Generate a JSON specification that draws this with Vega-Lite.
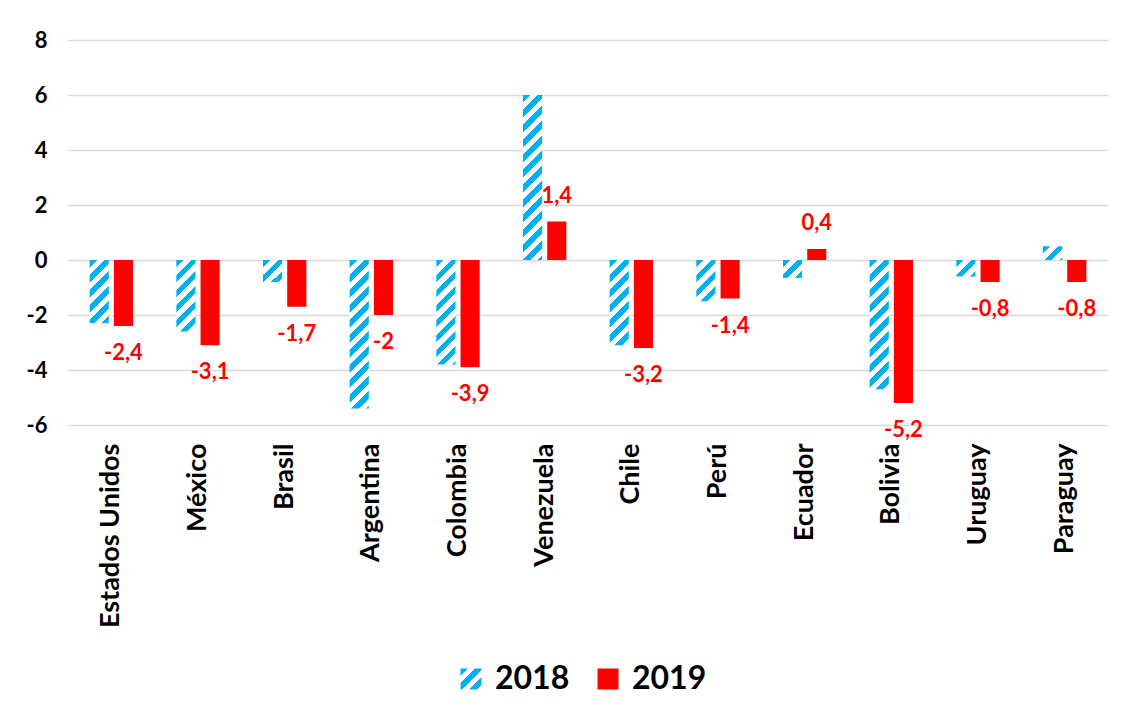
{
  "$schema": "https://vega.github.io/schema/vega-lite/v6.json",
  "autosize": {"type": "none"},
  "width": 1040,
  "height": 385,
  "padding": {"left": 68, "top": 40, "right": 14, "bottom": 292},
  "background": "#FFFFFF",
  "params": [
    {"name": "stripes", "value": [
      {"offset": 0.000, "color": "#00B0F0"}, {"offset": 0.025, "color": "#00B0F0"}, {"offset": 0.025, "color": "#FFFFFF"}, {"offset": 0.050, "color": "#FFFFFF"},
      {"offset": 0.050, "color": "#00B0F0"}, {"offset": 0.075, "color": "#00B0F0"}, {"offset": 0.075, "color": "#FFFFFF"}, {"offset": 0.100, "color": "#FFFFFF"},
      {"offset": 0.100, "color": "#00B0F0"}, {"offset": 0.125, "color": "#00B0F0"}, {"offset": 0.125, "color": "#FFFFFF"}, {"offset": 0.150, "color": "#FFFFFF"},
      {"offset": 0.150, "color": "#00B0F0"}, {"offset": 0.175, "color": "#00B0F0"}, {"offset": 0.175, "color": "#FFFFFF"}, {"offset": 0.200, "color": "#FFFFFF"},
      {"offset": 0.200, "color": "#00B0F0"}, {"offset": 0.225, "color": "#00B0F0"}, {"offset": 0.225, "color": "#FFFFFF"}, {"offset": 0.250, "color": "#FFFFFF"},
      {"offset": 0.250, "color": "#00B0F0"}, {"offset": 0.275, "color": "#00B0F0"}, {"offset": 0.275, "color": "#FFFFFF"}, {"offset": 0.300, "color": "#FFFFFF"},
      {"offset": 0.300, "color": "#00B0F0"}, {"offset": 0.325, "color": "#00B0F0"}, {"offset": 0.325, "color": "#FFFFFF"}, {"offset": 0.350, "color": "#FFFFFF"},
      {"offset": 0.350, "color": "#00B0F0"}, {"offset": 0.375, "color": "#00B0F0"}, {"offset": 0.375, "color": "#FFFFFF"}, {"offset": 0.400, "color": "#FFFFFF"},
      {"offset": 0.400, "color": "#00B0F0"}, {"offset": 0.425, "color": "#00B0F0"}, {"offset": 0.425, "color": "#FFFFFF"}, {"offset": 0.450, "color": "#FFFFFF"},
      {"offset": 0.450, "color": "#00B0F0"}, {"offset": 0.475, "color": "#00B0F0"}, {"offset": 0.475, "color": "#FFFFFF"}, {"offset": 0.500, "color": "#FFFFFF"},
      {"offset": 0.500, "color": "#00B0F0"}, {"offset": 0.525, "color": "#00B0F0"}, {"offset": 0.525, "color": "#FFFFFF"}, {"offset": 0.550, "color": "#FFFFFF"},
      {"offset": 0.550, "color": "#00B0F0"}, {"offset": 0.575, "color": "#00B0F0"}, {"offset": 0.575, "color": "#FFFFFF"}, {"offset": 0.600, "color": "#FFFFFF"},
      {"offset": 0.600, "color": "#00B0F0"}, {"offset": 0.625, "color": "#00B0F0"}, {"offset": 0.625, "color": "#FFFFFF"}, {"offset": 0.650, "color": "#FFFFFF"},
      {"offset": 0.650, "color": "#00B0F0"}, {"offset": 0.675, "color": "#00B0F0"}, {"offset": 0.675, "color": "#FFFFFF"}, {"offset": 0.700, "color": "#FFFFFF"},
      {"offset": 0.700, "color": "#00B0F0"}, {"offset": 0.725, "color": "#00B0F0"}, {"offset": 0.725, "color": "#FFFFFF"}, {"offset": 0.750, "color": "#FFFFFF"},
      {"offset": 0.750, "color": "#00B0F0"}, {"offset": 0.775, "color": "#00B0F0"}, {"offset": 0.775, "color": "#FFFFFF"}, {"offset": 0.800, "color": "#FFFFFF"},
      {"offset": 0.800, "color": "#00B0F0"}, {"offset": 0.825, "color": "#00B0F0"}, {"offset": 0.825, "color": "#FFFFFF"}, {"offset": 0.850, "color": "#FFFFFF"},
      {"offset": 0.850, "color": "#00B0F0"}, {"offset": 0.875, "color": "#00B0F0"}, {"offset": 0.875, "color": "#FFFFFF"}, {"offset": 0.900, "color": "#FFFFFF"},
      {"offset": 0.900, "color": "#00B0F0"}, {"offset": 0.925, "color": "#00B0F0"}, {"offset": 0.925, "color": "#FFFFFF"}, {"offset": 0.950, "color": "#FFFFFF"},
      {"offset": 0.950, "color": "#00B0F0"}, {"offset": 0.975, "color": "#00B0F0"}, {"offset": 0.975, "color": "#FFFFFF"}, {"offset": 1.000, "color": "#FFFFFF"}
    ]}
  ],
  "data": {"values": [
    {"pais": "Estados Unidos", "anio": "2018", "valor": -2.3},
    {"pais": "Estados Unidos", "anio": "2019", "valor": -2.4},
    {"pais": "México", "anio": "2018", "valor": -2.6},
    {"pais": "México", "anio": "2019", "valor": -3.1},
    {"pais": "Brasil", "anio": "2018", "valor": -0.8},
    {"pais": "Brasil", "anio": "2019", "valor": -1.7},
    {"pais": "Argentina", "anio": "2018", "valor": -5.4},
    {"pais": "Argentina", "anio": "2019", "valor": -2.0},
    {"pais": "Colombia", "anio": "2018", "valor": -3.8},
    {"pais": "Colombia", "anio": "2019", "valor": -3.9},
    {"pais": "Venezuela", "anio": "2018", "valor": 6.0},
    {"pais": "Venezuela", "anio": "2019", "valor": 1.4},
    {"pais": "Chile", "anio": "2018", "valor": -3.1},
    {"pais": "Chile", "anio": "2019", "valor": -3.2},
    {"pais": "Perú", "anio": "2018", "valor": -1.5},
    {"pais": "Perú", "anio": "2019", "valor": -1.4},
    {"pais": "Ecuador", "anio": "2018", "valor": -0.65},
    {"pais": "Ecuador", "anio": "2019", "valor": 0.4},
    {"pais": "Bolivia", "anio": "2018", "valor": -4.7},
    {"pais": "Bolivia", "anio": "2019", "valor": -5.2},
    {"pais": "Uruguay", "anio": "2018", "valor": -0.6},
    {"pais": "Uruguay", "anio": "2019", "valor": -0.8},
    {"pais": "Paraguay", "anio": "2018", "valor": 0.5},
    {"pais": "Paraguay", "anio": "2019", "valor": -0.8}
  ]},
  "encoding": {
    "x": {
      "field": "pais", "type": "nominal",
      "sort": ["Estados Unidos", "México", "Brasil", "Argentina", "Colombia", "Venezuela", "Chile", "Perú", "Ecuador", "Bolivia", "Uruguay", "Paraguay"],
      "scale": {"paddingInner": 0.5, "paddingOuter": 0.25},
      "axis": {"title": null, "labelAngle": -90, "labelFont": "Lato", "labelFontSize": 27, "labelFontWeight": "bold", "labelColor": "#000000", "labelPadding": 18, "labelLimit": 400, "domain": false, "ticks": false, "grid": false}
    },
    "xOffset": {"field": "anio", "type": "nominal", "scale": {"paddingInner": 0.21, "paddingOuter": 0}},
    "y": {
      "field": "valor", "type": "quantitative",
      "scale": {"domain": [-6, 8], "nice": false},
      "axis": {"title": null, "values": [-6, -4, -2, 0, 2, 4, 6, 8], "format": "~g", "grid": true, "gridColor": "#D9D9D9", "gridWidth": 1.5, "domain": false, "ticks": false, "labelFont": "Lato", "labelFontSize": 22, "labelFontWeight": "bold", "labelColor": "#000000", "labelPadding": 21}
    }
  },
  "layer": [
    {
      "mark": {"type": "bar", "strokeWidth": 0},
      "encoding": {
        "fill": {
          "field": "anio", "type": "nominal",
          "scale": {"domain": ["2018", "2019"], "range": [{"expr": "{gradient: 'linear', x1: 0, y1: 0, x2: 7.14, y2: 7.14, stops: stripes}"}, "#FF0000"]},
          "condition": {"test": "datum.anio == '2018'", "value": {"expr": "{gradient: 'linear', x1: 0, y1: 0, x2: 300 / (bandwidth('xOffset') * (1 + pow(abs(scale('y', datum.valor) - scale('y', 0)) / bandwidth('xOffset'), 2))), y2: 300 / (bandwidth('xOffset') * (1 + pow(abs(scale('y', datum.valor) - scale('y', 0)) / bandwidth('xOffset'), 2))) * abs(scale('y', datum.valor) - scale('y', 0)) / bandwidth('xOffset'), stops: stripes}"}},
          "legend": {
            "title": null, "orient": "none", "legendX": 387, "legendY": 623, "direction": "horizontal",
            "symbolType": "square", "symbolSize": 441, "symbolStrokeWidth": 0, "symbolOpacity": 1,
            "labelFont": "Lato", "labelFontSize": 32, "labelFontWeight": "bold", "labelColor": "#000000",
            "labelOffset": 8, "columnPadding": 22
          }
        }
      }
    },
    {
      "transform": [{"filter": "datum.anio == '2019'"}],
      "mark": {"type": "text", "font": "Lato", "fontSize": 22, "fontWeight": "bold", "color": "#FF0000", "baseline": "middle", "dy": {"expr": "datum.valor < 0 ? 27 : -26"}},
      "encoding": {
        "text": {"field": "valor", "type": "quantitative", "format": ".1~f"}
      }
    }
  ],
  "config": {
    "view": {"stroke": null},
    "font": "Lato",
    "locale": {"number": {"decimal": ",", "thousands": ".", "grouping": [3], "currency": ["", " €"], "minus": "-"}}
  }
}
